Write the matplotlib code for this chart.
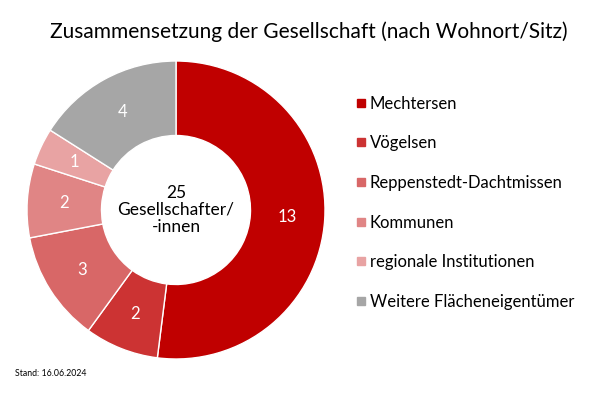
import matplotlib
matplotlib.use('Agg')
import matplotlib.pyplot as plt
from matplotlib.lines import Line2D

plt.rcParams['font.family'] = ['Lato', 'DejaVu Sans']

# Daten
kategorien = ['Mechtersen', 'Vögelsen', 'Reppenstedt-Dachtmissen', 'Kommunen',
              'regionale Institutionen', 'Weitere Flächeneigentümer']
werte = [13, 2, 3, 2, 1, 4]
farben = ['#C00000', '#CC3333', '#D86767', '#E08585', '#E8A3A3', '#A6A6A6']
gesamt = sum(werte)

fig = plt.figure(figsize=(6.12, 4.08), dpi=100)
ax = fig.add_axes([(176 - 150) / 612, (408 - 210 - 150) / 408, 300 / 612, 300 / 408])

wedges, texte = ax.pie(werte, colors=farben, startangle=90, counterclock=False,
                       radius=149 / 150, labels=[str(w) for w in werte],
                       labeldistance=0.75,
                       wedgeprops=dict(width=0.5 * 149 / 150, edgecolor='white', linewidth=1))
for t in texte:
    t.set_color('white')
    t.set_fontsize(12)
    t.set_ha('center')
    t.set_va('center')
ax.set_xlim(-1, 1)
ax.set_ylim(-1, 1)
ax.set_aspect('equal')

ax.text(0, 0, f'{gesamt}\nGesellschafter/\n-innen', ha='center', va='center',
        fontsize=12.5, linespacing=1.1)

fig.text(0.505, 1 - 32 / 408, 'Zusammensetzung der Gesellschaft (nach Wohnort/Sitz)',
         ha='center', va='center', fontsize=15)
fig.text(15 / 612, 1 - 373 / 408, 'Stand: 16.06.2024', ha='left', va='center', fontsize=6.3)

handles = [Line2D([], [], marker='s', linestyle='none', markersize=6, color=c) for c in farben]
fig.legend(handles, kategorien, loc='upper left', bbox_to_anchor=(349 / 612, 1 - 89 / 408),
           frameon=False, fontsize=12, labelspacing=1.42, handlelength=0.6,
           handletextpad=0.25, borderaxespad=0)

plt.savefig('out.png', dpi=100)
